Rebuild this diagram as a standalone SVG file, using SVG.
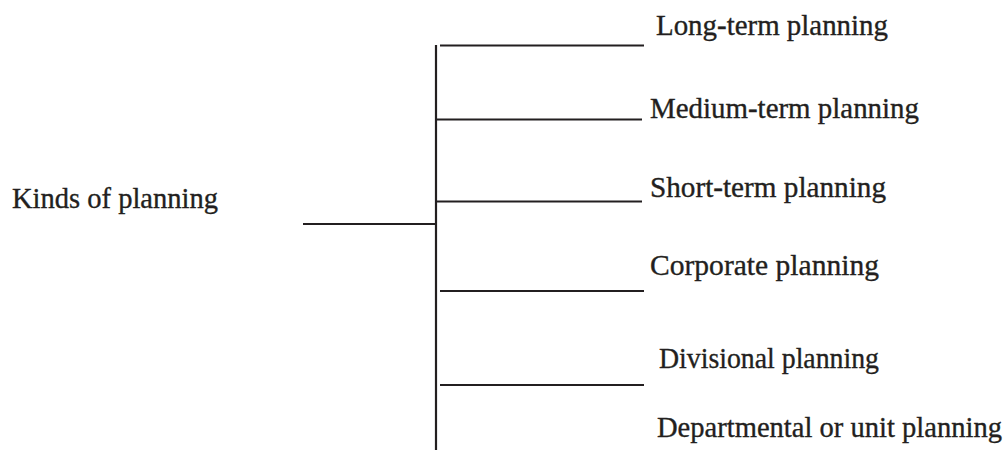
<svg xmlns="http://www.w3.org/2000/svg" width="1008" height="452" viewBox="0 0 1008 452">
<style>
.t{font-family:'Liberation Serif','Times New Roman',serif;font-size:30px;fill:#231f20;stroke:#231f20;stroke-width:0.35}
.c line{stroke:#231f20;stroke-width:2.2;fill:none}
</style>
<rect width="1008" height="452" fill="#fff"/>
<g id="connectors" class="c">
<line x1="303" y1="224" x2="436" y2="224"/>
<line x1="436" y1="45" x2="436" y2="450"/>
<line x1="440" y1="45.5" x2="644" y2="45.5"/>
<line x1="437" y1="119.5" x2="642" y2="119.5"/>
<line x1="437" y1="201.5" x2="642" y2="201.5"/>
<line x1="440" y1="291" x2="644" y2="291"/>
<line x1="440" y1="385" x2="644" y2="385"/>
</g>
<g id="root"><text class="t" x="12" y="208" textLength="206" lengthAdjust="spacingAndGlyphs">Kinds of planning</text></g>
<g id="n1"><text class="t" x="656" y="35" textLength="232" lengthAdjust="spacingAndGlyphs">Long-term planning</text></g>
<g id="n2"><text class="t" x="650" y="118" textLength="269" lengthAdjust="spacingAndGlyphs">Medium-term planning</text></g>
<g id="n3"><text class="t" x="650" y="197" textLength="236" lengthAdjust="spacingAndGlyphs">Short-term planning</text></g>
<g id="n4"><text class="t" x="650" y="275" textLength="229" lengthAdjust="spacingAndGlyphs">Corporate planning</text></g>
<g id="n5"><text class="t" x="659" y="368" textLength="220" lengthAdjust="spacingAndGlyphs">Divisional planning</text></g>
<g id="n6"><text class="t" x="657" y="437" textLength="345" lengthAdjust="spacingAndGlyphs">Departmental or unit planning</text></g>
</svg>
